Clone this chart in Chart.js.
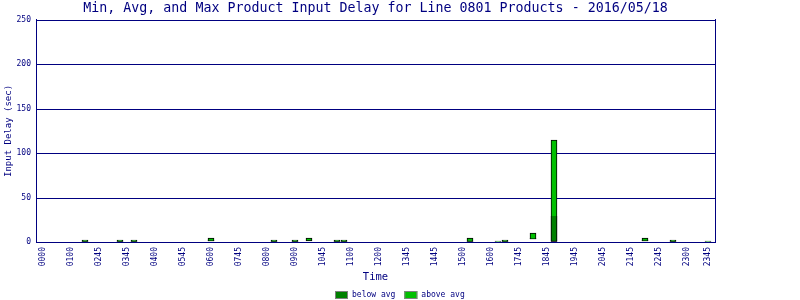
<!DOCTYPE html>
<html>
<head>
<meta charset="utf-8">
<script src="https://cdn.jsdelivr.net/npm/chart.js@4.4.1/dist/chart.umd.min.js"></script>
<style>
  html, body { margin: 0; padding: 0; background: #fff; }
  #wrap { width: 800px; height: 300px; }
</style>
</head>
<body>
<div id="wrap"><canvas id="chart"></canvas></div>
<script>
"use strict";
// 15-minute slots of the day (0 = 00:00 ... 95 = 23:45) that have data
var slots = [6, 11, 13, 24, 33, 36, 38, 42, 43, 61, 65, 66, 70, 73, 86, 90, 95];
var minDelay = [0, 0, 0, 1.5, 0, 0, 0.8, 0, 0, 0.5, 0, 0, 3.4, 0, 1.5, 0, 0];
var avgDelay = [1, 1, 1, 2, 1, 1, 1.5, 1, 1, 1.2, 0.5, 1, 4.5, 29, 2, 1, 0.5];
var maxDelay = [2.2, 2.2, 2.2, 5, 2.2, 2.2, 5, 2.2, 2.2, 5, 1.1, 2.2, 10, 115, 5, 2.2, 1.1];

var tickSlots = [0, 4, 8, 12, 16, 20, 24, 28, 32, 36, 40, 44, 48, 52, 56, 60, 64, 68, 72, 76, 80, 84, 88, 92, 95];
var tickLabels = ["0000", "0100", "0245", "0345", "0400", "0545", "0600", "0745", "0800", "0900",
  "1045", "1100", "1200", "1345", "1445", "1500", "1600", "1745", "1845", "1945",
  "2045", "2145", "2245", "2300", "2345"];

var NAVY = "#000080";
var MONO = "'DejaVu Sans Mono', monospace";

function floating(lo, hi) {
  return slots.map(function (s, i) { return { x: s, y: [lo[i], hi[i]] }; });
}

// small legend under the plot, centred on the canvas, grey-framed swatches
var bottomLegend = {
  id: "bottomLegend",
  afterDraw: function (chart) {
    var ctx = chart.ctx;
    var sets = chart.data.datasets;
    var boxW = 13, boxH = 8, gap = 4, between = 9;
    ctx.save();
    ctx.font = "8px " + MONO;
    ctx.textBaseline = "middle";
    var widths = sets.map(function (d) { return boxW + gap + ctx.measureText(d.label).width; });
    var total = widths.reduce(function (a, b) { return a + b; }, 0) + between * (sets.length - 1);
    var x = Math.round(chart.width / 2 - total / 2);
    var y = 291;
    sets.forEach(function (d, i) {
      ctx.fillStyle = d.backgroundColor;
      ctx.fillRect(x, y, boxW, boxH);
      ctx.strokeStyle = "#808080";
      ctx.lineWidth = 1;
      ctx.strokeRect(x + 0.5, y + 0.5, boxW - 1, boxH - 1);
      ctx.fillStyle = NAVY;
      ctx.fillText(d.label, x + boxW + gap, y + boxH / 2);
      x += widths[i] + between;
    });
    ctx.restore();
  }
};

new Chart(document.getElementById("chart"), {
  type: "bar",
  data: {
    datasets: [
      {
        label: "below avg",
        data: floating(minDelay, avgDelay),
        backgroundColor: "#008000",
        borderColor: "#000000",
        borderWidth: 1,
        borderSkipped: "top",
        barThickness: 6,
        grouped: false
      },
      {
        label: "above avg",
        data: floating(minDelay, maxDelay),
        backgroundColor: "#00c000",
        borderColor: "#000000",
        borderWidth: 1,
        borderSkipped: false,
        barThickness: 6,
        grouped: false
      }
    ]
  },
  options: {
    responsive: true,
    maintainAspectRatio: false,
    animation: false,
    devicePixelRatio: 1,
    layout: { padding: 0 },
    plugins: {
      tooltip: { enabled: false },
      legend: { display: false },
      title: {
        display: true,
        fullSize: false,
        text: "Min, Avg, and Max Product Input Delay for Line 0801 Products - 2016/05/18",
        color: NAVY,
        font: { family: MONO, size: 13.3, weight: "normal" },
        padding: { top: 1, bottom: 3 }
      }
    },
    scales: {
      x: {
        type: "linear",
        offset: false,
        min: -1,
        max: 96,
        afterBuildTicks: function (scale) {
          scale.ticks = tickSlots.map(function (v) { return { value: v }; });
        },
        afterCalculateLabelRotation: function (scale) { scale.labelRotation = 90; },
        afterFit: function (scale) {
          scale.height = scale.chart.height - 242;
          scale.paddingLeft = 0;
          scale.paddingRight = 0;
        },
        grid: { display: false, drawTicks: false, offset: false },
        border: { display: true, color: NAVY, width: 1 },
        ticks: {
          autoSkip: false,
          minRotation: 90,
          maxRotation: 90,
          padding: 5,
          color: NAVY,
          font: { family: MONO, size: 8 },
          callback: function (v) {
            var i = tickSlots.indexOf(v);
            return i < 0 ? "" : tickLabels[i];
          }
        },
        title: {
          display: true,
          text: "Time",
          color: NAVY,
          font: { family: MONO, size: 10.5 },
          padding: { top: 0, bottom: 16 }
        }
      },
      y: {
        min: 0,
        max: 250,
        alignToPixels: true,
        afterFit: function (scale) { scale.width = 36; },
        grid: { color: NAVY, lineWidth: 1, drawTicks: false },
        border: { color: NAVY, width: 1 },
        ticks: {
          stepSize: 50,
          padding: 5,
          color: NAVY,
          font: { family: MONO, size: 8 }
        },
        title: {
          display: true,
          text: "Input Delay (sec)",
          color: NAVY,
          font: { family: MONO, size: 9 },
          padding: { top: 3, bottom: 0 }
        }
      },
      yRight: {
        position: "right",
        min: 0,
        max: 250,
        afterFit: function (scale) { scale.width = 85; },
        grid: { display: false, drawTicks: false },
        border: { color: NAVY, width: 1 },
        ticks: { display: false }
      }
    }
  },
  plugins: [bottomLegend]
});
</script>
</body>
</html>
